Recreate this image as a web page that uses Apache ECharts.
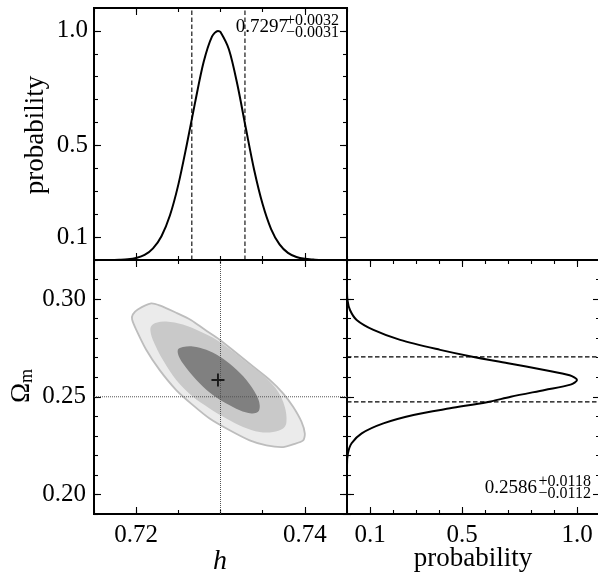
<!DOCTYPE html>
<html>
<head>
<meta charset="utf-8">
<script src="https://cdn.jsdelivr.net/npm/echarts@6/dist/echarts.min.js"></script>
<style>
html,body{margin:0;padding:0;background:#fff;}
#c{width:598px;height:578px;}
</style>
</head>
<body>
<div id="c"></div>
<script>
// ---------------- data ----------------
const hRange = [0.715, 0.745];
const omRange = [0.19, 0.32];
const probRange = [0, 1.1];

const hTickLabels = [0.72, 0.74];
const hMinorTicks = [0.715, 0.72, 0.725, 0.73, 0.735, 0.74, 0.745];
const omTickLabels = [0.20, 0.25, 0.30];
const omMinorTicks = [0.19, 0.20, 0.21, 0.22, 0.23, 0.24, 0.25, 0.26, 0.27, 0.28, 0.29, 0.30, 0.31, 0.32];
const probTickLabels = [0.1, 0.5, 1.0];
const probMinorTicks = [0.1, 0.2, 0.3, 0.4, 0.5, 0.6, 0.7, 0.8, 0.9, 1.0];

// marginal of h
const hVals  = [0.715, 0.716, 0.717, 0.718, 0.719, 0.720, 0.721, 0.722, 0.723, 0.724, 0.725, 0.726, 0.727, 0.728, 0.729, 0.7297, 0.730, 0.731, 0.732, 0.733, 0.734, 0.735, 0.736, 0.737, 0.738, 0.739, 0.740, 0.741, 0.742, 0.743, 0.744, 0.745];
const hProb  = [0.000, 0.000, 0.000, 0.001, 0.003, 0.009, 0.022, 0.051, 0.104, 0.194, 0.329, 0.503, 0.690, 0.864, 0.976, 1.000, 0.995, 0.919, 0.766, 0.576, 0.392, 0.243, 0.135, 0.068, 0.031, 0.013, 0.005, 0.002, 0.000, 0.000, 0.000, 0.000];

// marginal of Omega_m (rotated panel)
const omVals  = [0.320, 0.305, 0.2995, 0.2944, 0.2893, 0.2842, 0.2791, 0.2740, 0.2705, 0.2672, 0.2637, 0.2610, 0.2586, 0.2562, 0.2535, 0.2500, 0.2472, 0.2441, 0.2407, 0.2364, 0.2313, 0.2262, 0.2211, 0.215, 0.190];
const omProb  = [0.000, 0.000, 0.002, 0.013, 0.042, 0.115, 0.231, 0.405, 0.545, 0.700, 0.858, 0.968, 1.000, 0.972, 0.860, 0.712, 0.608, 0.448, 0.289, 0.158, 0.064, 0.020, 0.004, 0.000, 0.000];

// summary statistics
const hMed = 0.7297, hErrHi = 0.0032, hErrLo = 0.0031;
const omMed = 0.2586, omErrHi = 0.0118, omErrLo = 0.0112;
const hTrue = 0.73, omTrue = 0.25;

// 2D credible contours [h, Omega_m]
const contourOuter = [
  [0.71960,0.29211],[0.72019,0.29469],[0.72178,0.29778],[0.72277,0.29675],[0.72475,0.29299],
  [0.72654,0.28918],[0.72812,0.28438],[0.72990,0.27923],[0.73188,0.27237],[0.73386,0.26546],
  [0.73584,0.25861],[0.73742,0.25175],[0.73861,0.24485],[0.73961,0.23711],[0.74000,0.23113],
  [0.73980,0.22768],[0.73861,0.22562],[0.73742,0.22423],[0.73545,0.22510],[0.73346,0.22768],
  [0.73109,0.23284],[0.72871,0.23887],[0.72673,0.24572],[0.72475,0.25345],[0.72277,0.26376],
  [0.72119,0.27407],[0.72000,0.28438],[0.71952,0.28954]
];
const contourMiddle = [
  [0.72178,0.28608],[0.72238,0.28784],[0.72356,0.28851],[0.72554,0.28696],[0.72752,0.28351],
  [0.72951,0.27923],[0.73148,0.27320],[0.73346,0.26634],[0.73545,0.25948],[0.73683,0.25258],
  [0.73762,0.24485],[0.73782,0.23711],[0.73742,0.23371],[0.73623,0.23196],[0.73465,0.23196],
  [0.73267,0.23454],[0.73069,0.23887],[0.72871,0.24402],[0.72673,0.25000],[0.72475,0.25861],
  [0.72316,0.26892],[0.72197,0.27923],[0.72170,0.28351]
];
const contourInner = [
  [0.72494,0.27407],[0.72554,0.27546],[0.72673,0.27577],[0.72832,0.27407],[0.72990,0.27062],
  [0.73148,0.26546],[0.73307,0.25861],[0.73426,0.25088],[0.73465,0.24572],[0.73445,0.24227],
  [0.73367,0.24144],[0.73228,0.24314],[0.73069,0.24660],[0.72910,0.25088],[0.72752,0.25691],
  [0.72613,0.26376],[0.72515,0.26979]
];
const contours = [contourOuter, contourMiddle, contourInner];
const contourFill = ['#ebebeb', '#c9c9c9', '#808080'];
const contourStroke = ['#bdbdbd', null, null];

// ---------------- chart ----------------
const FONT = 'Liberation Serif';
const chart = echarts.init(document.getElementById('c'), null, {renderer: 'canvas'});

const grids = [
  {left: 94, top: 8, width: 253, height: 252},
  {left: 94, top: 260, width: 253, height: 254},
  {left: 347, top: 260, width: 253, height: 254}
].map(g => Object.assign(g, {show: true, borderColor: '#000', borderWidth: 2, backgroundColor: 'transparent', containLabel: false, outerBoundsMode: 'none'}));

function mkAxis(grid, pos, range, ticks, len, labels, fmt, margin) {
  return {
    type: 'value', gridIndex: grid, position: pos, min: range[0], max: range[1],
    axisLine: {show: false, onZero: false},
    splitLine: {show: false},
    axisTick: {show: true, inside: true, length: len, customValues: ticks, lineStyle: {color: '#000', width: 1.1}},
    axisLabel: labels ? {show: true, customValues: labels, formatter: fmt, margin: margin, color: '#000', fontFamily: FONT, fontSize: 25} : {show: false}
  };
}
const f2 = v => v.toFixed(2), f1 = v => v.toFixed(1);

const xAxes = [], yAxes = [];
function addSet(arr, grid, posA, posB, range, majors, minors, labels, fmt, margin) {
  arr.push(mkAxis(grid, posA, range, majors, 7, labels, fmt, margin));
  arr.push(mkAxis(grid, posA, range, minors, 4, null));
  arr.push(mkAxis(grid, posB, range, majors, 7, null));
  arr.push(mkAxis(grid, posB, range, minors, 4, null));
}
addSet(xAxes, 0, 'bottom', 'top', hRange, hTickLabels, hMinorTicks, null);
addSet(yAxes, 0, 'left', 'right', probRange, probTickLabels, probMinorTicks, probTickLabels, f1, 6);
addSet(xAxes, 1, 'bottom', 'top', hRange, hTickLabels, hMinorTicks, hTickLabels, f2, 9);
addSet(yAxes, 1, 'left', 'right', omRange, omTickLabels, omMinorTicks, omTickLabels, f2, 8);
addSet(xAxes, 2, 'bottom', 'top', probRange, probTickLabels, probMinorTicks, probTickLabels, f1, 9);
addSet(yAxes, 2, 'left', 'right', omRange, omTickLabels, omMinorTicks, null);

function refLine(xi, yi, pts, style, z) {
  return {
    type: 'line', xAxisIndex: xi, yAxisIndex: yi, data: pts,
    showSymbol: false, symbol: 'none', silent: true,
    lineStyle: style, z: z
  };
}
const dashed = {color: '#000', width: 1.1, type: [4.5, 2.5]};
const dotted = {color: '#555', width: 1, type: [1, 1]};

const hLo = hMed - hErrLo, hHi = hMed + hErrHi;
const omLo = omMed - omErrLo, omHi = omMed + omErrHi;

const option = {
  animation: false,
  backgroundColor: '#fff',
  grid: grids,
  xAxis: xAxes,
  yAxis: yAxes,
  series: [
    {
      type: 'line', xAxisIndex: 0, yAxisIndex: 0,
      data: hVals.map((h, i) => [h, hProb[i]]),
      showSymbol: false, smooth: 0.3,
      lineStyle: {color: '#000', width: 2},
      z: 5
    },
    refLine(0, 0, [[hLo, probRange[0]], [hLo, probRange[1]]], dashed, 4),
    refLine(0, 0, [[hHi, probRange[0]], [hHi, probRange[1]]], dashed, 4),
    {
      type: 'custom', xAxisIndex: 4, yAxisIndex: 4,
      data: contours.map((c, i) => [c[0][0], c[0][1], i]),
      renderItem: function (params, api) {
        const i = params.dataIndex;
        const pts = contours[i].map(p => api.coord(p));
        return {
          type: 'polygon',
          shape: {points: pts, smooth: i === 0 ? 0.25 : 0.35},
          style: {fill: contourFill[i], stroke: contourStroke[i] || 'none', lineWidth: contourStroke[i] ? 1.8 : 0}
        };
      },
      z: 2
    },
    refLine(4, 4, [[hTrue, omRange[0]], [hTrue, omRange[1]]], dotted, 4),
    refLine(4, 4, [[hRange[0], omTrue], [hRange[1], omTrue]], dotted, 4),
    {
      type: 'scatter', xAxisIndex: 4, yAxisIndex: 4,
      data: [[hMed, omMed]],
      symbol: 'path://M5.1,0H6.9V5.1H12V6.9H6.9V12H5.1V6.9H0V5.1H5.1Z',
      symbolSize: 13,
      itemStyle: {color: '#000'},
      z: 6
    },
    {
      type: 'line', xAxisIndex: 8, yAxisIndex: 8,
      data: omVals.map((o, i) => [omProb[i], o]),
      showSymbol: false, smooth: 0.3,
      lineStyle: {color: '#000', width: 2},
      z: 5
    },
    refLine(8, 8, [[probRange[0], omHi], [probRange[1], omHi]], dashed, 4),
    refLine(8, 8, [[probRange[0], omLo], [probRange[1], omLo]], dashed, 4)
  ],
  graphic: [
    {type: 'text', x: 36, y: 135, rotation: Math.PI / 2,
      style: {text: 'probability', font: '27px "Liberation Serif"', fill: '#000', textAlign: 'center', textVerticalAlign: 'middle'}},
    {type: 'text', x: 22, y: 386, rotation: Math.PI / 2,
      style: {text: '{a|Ω}{b|m}', fill: '#000', textAlign: 'center', textVerticalAlign: 'middle',
        rich: {a: {font: '27px "Liberation Serif"', fill: '#000'}, b: {font: '18px "Liberation Serif"', fill: '#000', padding: [10, 0, 0, 0]}}}},
    {type: 'text', x: 220, y: 562,
      style: {text: 'h', font: 'italic 28px "Liberation Serif"', fill: '#000', textAlign: 'center', textVerticalAlign: 'middle'}},
    {type: 'text', x: 473, y: 559,
      style: {text: 'probability', font: '27px "Liberation Serif"', fill: '#000', textAlign: 'center', textVerticalAlign: 'middle'}},
    {type: 'text', x: 288, y: 27,
      style: {text: hMed.toFixed(4), font: '19px "Liberation Serif"', fill: '#000', textAlign: 'right', textVerticalAlign: 'middle'}},
    {type: 'text', x: 339, y: 21,
      style: {text: '+' + hErrHi.toFixed(4), font: '16px "Liberation Serif"', fill: '#000', textAlign: 'right', textVerticalAlign: 'middle'}},
    {type: 'text', x: 339, y: 33,
      style: {text: '\u2212' + hErrLo.toFixed(4), font: '16px "Liberation Serif"', fill: '#000', textAlign: 'right', textVerticalAlign: 'middle'}},
    {type: 'text', x: 537, y: 488,
      style: {text: omMed.toFixed(4), font: '19px "Liberation Serif"', fill: '#000', textAlign: 'right', textVerticalAlign: 'middle'}},
    {type: 'text', x: 591, y: 482,
      style: {text: '+' + omErrHi.toFixed(4), font: '16px "Liberation Serif"', fill: '#000', textAlign: 'right', textVerticalAlign: 'middle'}},
    {type: 'text', x: 591, y: 494,
      style: {text: '\u2212' + omErrLo.toFixed(4), font: '16px "Liberation Serif"', fill: '#000', textAlign: 'right', textVerticalAlign: 'middle'}}
  ]
};
chart.setOption(option);
</script>
</body>
</html>
